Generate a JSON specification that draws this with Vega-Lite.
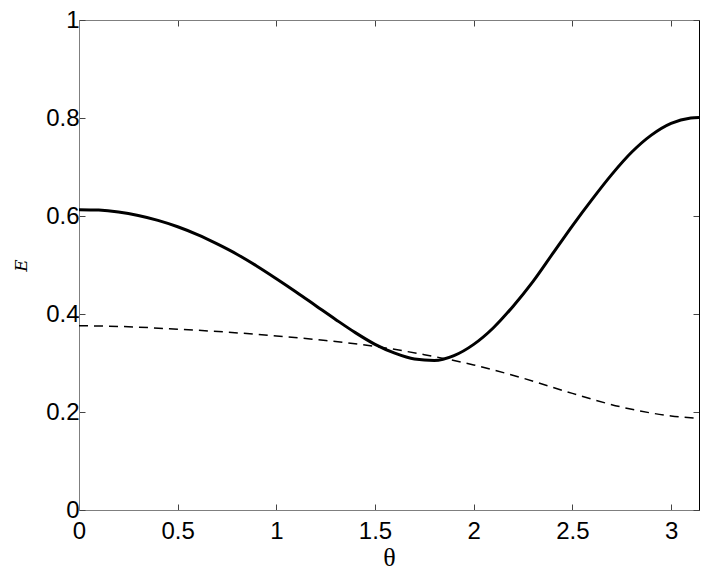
{
  "$schema": "https://vega.github.io/schema/vega-lite/v6.json",
  "autosize": "none",
  "width": 620,
  "height": 490,
  "padding": {"left": 79, "top": 20, "right": 5, "bottom": 67},
  "background": "white",
  "config": {
    "view": {"stroke": null},
    "axis": {
      "grid": false,
      "labelFont": "Liberation Sans",
      "labelFontSize": 24,
      "labelColor": "black",
      "tickSize": -6,
      "tickColor": "#444444",
      "domainColor": "#7f7f7f",
      "labelFlush": false,
      "labelOverlap": false
    }
  },
  "datasets": {
    "solid": [
      {"theta": 0.0, "E": 0.613},
      {"theta": 0.1, "E": 0.612},
      {"theta": 0.2, "E": 0.608},
      {"theta": 0.3, "E": 0.601},
      {"theta": 0.4, "E": 0.591},
      {"theta": 0.5, "E": 0.578},
      {"theta": 0.6, "E": 0.562},
      {"theta": 0.7, "E": 0.543},
      {"theta": 0.8, "E": 0.522},
      {"theta": 0.9, "E": 0.498},
      {"theta": 1.0, "E": 0.472},
      {"theta": 1.1, "E": 0.445},
      {"theta": 1.2, "E": 0.417},
      {"theta": 1.3, "E": 0.389},
      {"theta": 1.4, "E": 0.362},
      {"theta": 1.5, "E": 0.338},
      {"theta": 1.6, "E": 0.320},
      {"theta": 1.7, "E": 0.308},
      {"theta": 1.8, "E": 0.305},
      {"theta": 1.9, "E": 0.315},
      {"theta": 2.0, "E": 0.338},
      {"theta": 2.1, "E": 0.372},
      {"theta": 2.2, "E": 0.416},
      {"theta": 2.3, "E": 0.466},
      {"theta": 2.4, "E": 0.523},
      {"theta": 2.5, "E": 0.580},
      {"theta": 2.6, "E": 0.634},
      {"theta": 2.7, "E": 0.685},
      {"theta": 2.8, "E": 0.730},
      {"theta": 2.9, "E": 0.765},
      {"theta": 3.0, "E": 0.789},
      {"theta": 3.1, "E": 0.800},
      {"theta": 3.1416, "E": 0.801}
    ],
    "dashed": [
      {"theta": 0.0, "E": 0.376},
      {"theta": 0.25, "E": 0.374},
      {"theta": 0.5, "E": 0.369},
      {"theta": 0.75, "E": 0.363},
      {"theta": 1.0, "E": 0.355},
      {"theta": 1.25, "E": 0.346},
      {"theta": 1.5, "E": 0.334},
      {"theta": 1.75, "E": 0.317},
      {"theta": 2.0, "E": 0.296},
      {"theta": 2.25, "E": 0.269},
      {"theta": 2.5, "E": 0.238},
      {"theta": 2.75, "E": 0.210},
      {"theta": 3.0, "E": 0.192},
      {"theta": 3.1416, "E": 0.187}
    ]
  },
  "layer": [
    {
      "data": {"name": "solid"},
      "mark": {"type": "line", "color": "black", "strokeWidth": 3, "interpolate": "monotone", "clip": true},
      "encoding": {
        "x": {
          "field": "theta", "type": "quantitative",
          "scale": {"domain": [0, 3.14159], "nice": false, "zero": false},
          "axis": {
            "orient": "bottom",
            "values": [0, 0.5, 1, 1.5, 2, 2.5, 3],
            "format": "~g",
            "labelPadding": 15,
            "title": "θ",
            "titleFont": "Liberation Serif",
            "titleFontSize": 26,
            "titleFontWeight": "normal",
            "titleBaseline": "alphabetic",
            "titleY": 55,
            "titleColor": "black"
          }
        },
        "y": {
          "field": "E", "type": "quantitative",
          "scale": {"domain": [0, 1], "nice": false},
          "axis": {
            "orient": "left",
            "values": [0, 0.2, 0.4, 0.6, 0.8, 1],
            "format": "~g",
            "labelPadding": 6,
            "title": "E",
            "titleFont": "DejaVu Serif",
            "titleFontStyle": "italic",
            "titleFontWeight": "normal",
            "titleFontSize": 17,
            "titleBaseline": "alphabetic",
            "titleX": -53,
            "titleY": 245,
            "titleColor": "black"
          }
        }
      }
    },
    {
      "data": {"name": "dashed"},
      "mark": {"type": "line", "color": "black", "strokeWidth": 1.5, "strokeDash": [9, 6], "interpolate": "monotone", "clip": true},
      "encoding": {
        "x": {
          "field": "theta", "type": "quantitative",
          "axis": {"orient": "top", "values": [0, 0.5, 1, 1.5, 2, 2.5, 3], "labels": false, "title": null}
        },
        "y": {
          "field": "E", "type": "quantitative",
          "axis": {"orient": "right", "values": [0, 0.2, 0.4, 0.6, 0.8, 1], "labels": false, "title": null, "domainColor": "black"}
        }
      }
    }
  ],
  "resolve": {"axis": {"x": "independent", "y": "independent"}}
}
